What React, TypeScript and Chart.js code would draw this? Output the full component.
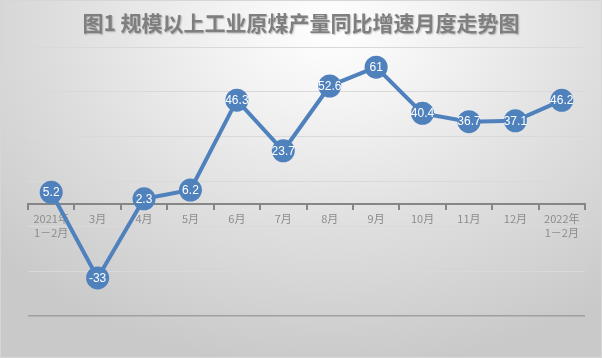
import React, { useEffect, useRef } from "react";
import { Chart, registerables } from "chart.js";

Chart.register(...registerables);

const TITLE = "图1 规模以上工业原煤产量同比增速月度走势图";
const categories: (string | string[])[] = [
  ["2021年", "1－2月"],
  "3月",
  "4月",
  "5月",
  "6月",
  "7月",
  "8月",
  "9月",
  "10月",
  "11月",
  "12月",
  ["2022年", "1－2月"],
];
const growth = [5.2, -33, 2.3, 6.2, 46.3, 23.7, 52.6, 61, 40.4, 36.7, 37.1, 46.2];
const yTicks = [-50, -30, -10, 10, 30, 50, 70];

const BLUE = "#4f81bd";

const titlePlugin = {
  id: "customTitle",
  afterDraw(chart: any) {
    const ctx = chart.ctx;
    ctx.save();
    ctx.font = "bold 21px 'Noto Sans CJK SC', sans-serif";
    ctx.fillStyle = "#7f7f7f";
    ctx.textAlign = "center";
    ctx.textBaseline = "middle";
    ctx.shadowColor = "rgba(0,0,0,0.25)";
    ctx.shadowOffsetX = 1;
    ctx.shadowOffsetY = 1;
    ctx.shadowBlur = 1.5;
    ctx.fillText(TITLE, chart.width / 2, 23);
    ctx.restore();
  },
};

const labelPlugin = {
  id: "pointLabels",
  afterDatasetsDraw(chart: any) {
    const ctx = chart.ctx;
    const meta = chart.getDatasetMeta(0);
    ctx.save();
    ctx.font = "12px 'Liberation Sans', sans-serif";
    ctx.fillStyle = "#ffffff";
    ctx.textAlign = "center";
    ctx.textBaseline = "middle";
    meta.data.forEach((pt: any, i: number) => {
      ctx.fillText(String(growth[i]), pt.x, pt.y + 0.5);
    });
    ctx.restore();
  },
};

export default function App() {
  const ref = useRef<HTMLCanvasElement | null>(null);

  useEffect(() => {
    if (!ref.current) return;
    const chart = new Chart(ref.current, {
      type: "line",
      data: {
        labels: categories,
        datasets: [
          {
            data: growth,
            borderColor: BLUE,
            borderWidth: 4,
            backgroundColor: BLUE,
            pointRadius: 11.5,
            pointBackgroundColor: BLUE,
            pointBorderColor: BLUE,
            pointBorderWidth: 0,
            tension: 0,
          },
        ],
      },
      options: {
        animation: false,
        responsive: false,
        events: [],
        layout: { padding: { left: 28, right: 17, top: 47, bottom: 42 } },
        plugins: {
          legend: { display: false },
          title: { display: false },
          tooltip: { enabled: false },
        },
        scales: {
          x: {
            type: "category",
            position: { y: 0 } as any,
            offset: true,
            grid: {
              offset: true,
              drawOnChartArea: false,
              drawTicks: true,
              tickLength: 5,
              color: "#868686",
              lineWidth: 2,
            },
            border: { display: true, color: "#868686", width: 2 },
            ticks: {
              color: "#8c8c8c",
              padding: 3,
              maxRotation: 0,
              autoSkip: false,
              font: { family: "'Noto Sans CJK SC', sans-serif", size: 11, lineHeight: 1.25 },
            },
          },
          y: {
            min: -50,
            max: 70,
            afterBuildTicks: (scale: any) => {
              scale.ticks = yTicks.map((v) => ({ value: v }));
            },
            ticks: { display: false },
            border: { display: false },
            grid: {
              drawTicks: false,
              color: (c: any) => (c.tick && c.tick.value === -50 ? "#a0a0a0" : "#d9d9d9"),
              lineWidth: (c: any) => (c.tick && c.tick.value === -50 ? 1.5 : 1),
            },
          },
        },
      },
      plugins: [titlePlugin, labelPlugin],
    });
    return () => chart.destroy();
  }, []);

  return (
    <div
      style={{
        position: "fixed",
        left: 0,
        top: 0,
        width: 602,
        height: 358,
        background:
          "radial-gradient(ellipse 75% 95% at 55% 8%, #ffffff 0%, #f2f2f2 25%, #dedede 60%, #c9c9c9 100%)",
        boxShadow: "inset 0 0 0 1px #d6d6d6",
      }}
    >
      <canvas ref={ref} width={602} height={358} style={{ position: "absolute", left: 0, top: 0 }} />
    </div>
  );
}
